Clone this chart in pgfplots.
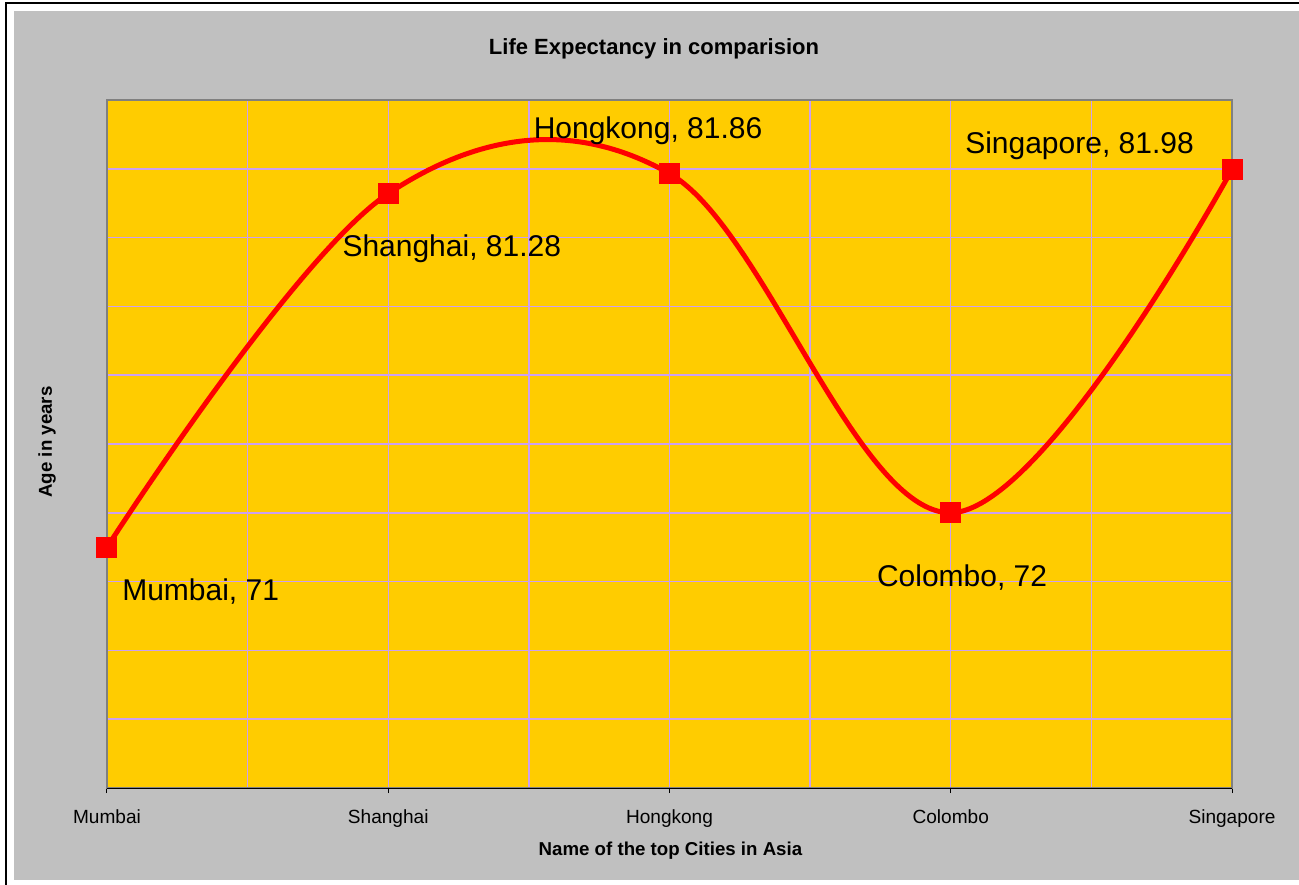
\documentclass[border=0pt]{standalone}
\usepackage{fontspec}
\setmainfont{Liberation Sans}
\usepackage{pgfplots}
\pgfplotsset{compat=1.18}
\definecolor{bggray}{RGB}{192,192,192}
\definecolor{plotyellow}{RGB}{255,204,0}
\definecolor{gridlav}{RGB}{204,160,240}
\definecolor{framegray}{RGB}{128,128,128}
\begin{document}
\begin{tikzpicture}
\fill[white] (-80.25pt,-72.75pt) rectangle (894pt,591pt);
\fill[bggray] (-69.75pt,-69pt) rectangle (900pt,582.75pt);
\draw[black, line width=1.5pt] (-75.75pt,-100pt) -- (-75.75pt,588.75pt) -- (950pt,588.75pt);
\begin{axis}[
  at={(0pt,0pt)}, anchor=south west,
  scale only axis, width=843.75pt, height=516pt,
  xmin=0, xmax=4, ymin=64, ymax=84,
  xtick={0,1,2,3,4},
  xticklabels={Mumbai,Shanghai,Hongkong,Colombo,Singapore},
  minor xtick={0.5,1.5,2.5,3.5},
  ytick={64,66,...,84},
  yticklabels={},
  xtick pos=bottom,
  grid=both,
  major grid style={gridlav, line width=1.1pt},
  minor grid style={gridlav, line width=1.1pt},
  axis background/.style={fill=plotyellow},
  axis line style={framegray, line width=1pt},
  tick align=outside,
  major tick length=3.75pt,
  minor tick length=0pt,
  xtick style={black, line width=0.75pt},
  ytick style={draw=none},
  xticklabel style={font=\fontsize{14.3}{17}\selectfont, anchor=base, yshift=-22.5pt},
  clip=false,
]
\addplot[red, line width=3.75pt, smooth, tension=0.6, mark=square*, mark size=7.5pt, mark options={solid, line width=0pt, fill=red}] coordinates {(0,71) (1,81.28) (2,81.86) (3,72) (4,81.98)};
\draw[black, line width=0.75pt] (axis cs:0,64) -- (axis cs:4,64);
\begin{scope}[every node/.style={font=\fontsize{22.5}{27}\selectfont, inner sep=0pt, anchor=base west}]
\node[xshift=11.25pt, yshift=-39.75pt] at (axis cs:0,71) {Mumbai, 71};
\node[xshift=-34.5pt, yshift=-47.25pt] at (axis cs:1,81.28) {Shanghai, 81.28};
\node[xshift=-102pt, yshift=26.25pt] at (axis cs:2,81.86) {Hongkong, 81.86};
\node[xshift=-55.5pt, yshift=-55.5pt] at (axis cs:3,72) {Colombo, 72};
\node[xshift=-200.25pt, yshift=12pt] at (axis cs:4,81.98) {Singapore, 81.98};
\end{scope}
\end{axis}
\node[font=\bfseries\fontsize{16.5}{20}\selectfont, anchor=base, inner sep=0pt] at (410.25pt,549.75pt) {Life Expectancy in comparision};
\node[font=\bfseries\fontsize{14}{17}\selectfont, anchor=base, inner sep=0pt] at (422.6pt,-50.25pt) {Name of the top Cities in Asia};
\node[font=\bfseries\fontsize{14}{17}\selectfont, anchor=base, inner sep=0pt, rotate=90] at (-41.25pt,259.5pt) {Age in years};
\pgfresetboundingbox
\path (-80.25pt,-72.75pt) rectangle (894pt,591pt);
\end{tikzpicture}
\end{document}
